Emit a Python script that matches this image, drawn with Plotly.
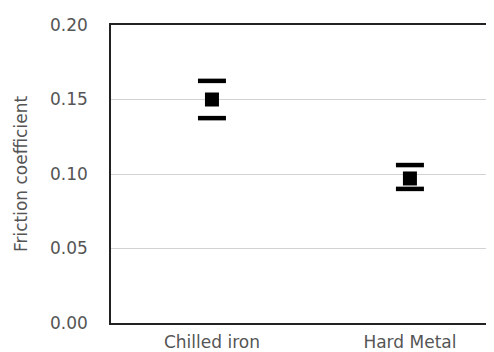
import plotly.graph_objects as go

categories = ["Chilled iron", "Hard Metal"]
friction_mean = [0.150, 0.097]
err_plus = [0.0125, 0.009]
err_minus = [0.0125, 0.007]
y_ticks = [0.00, 0.05, 0.10, 0.15, 0.20]
y_tick_labels = ["0.00", "0.05", "0.10", "0.15", "0.20"]

upper = [m + e for m, e in zip(friction_mean, err_plus)]
lower = [m - e for m, e in zip(friction_mean, err_minus)]

font_family = "DejaVu Sans"
text_color = "#555555"

fig = go.Figure()
fig.add_trace(go.Scatter(
    x=categories, y=upper, mode="markers",
    marker=dict(symbol="line-ew", size=20, line=dict(width=4.5, color="black")),
    showlegend=False, hoverinfo="skip"))
fig.add_trace(go.Scatter(
    x=categories, y=lower, mode="markers",
    marker=dict(symbol="line-ew", size=20, line=dict(width=4.5, color="black")),
    showlegend=False, hoverinfo="skip"))
fig.add_trace(go.Scatter(
    x=categories, y=friction_mean, mode="markers",
    marker=dict(symbol="square", size=14, color="black", line=dict(width=0)),
    showlegend=False))

fig.add_shape(type="line", xref="paper", yref="paper", x0=1, x1=1, y0=0, y1=1,
              line=dict(color="#d8d8d8", width=1))

fig.update_layout(
    width=494, height=352,
    margin=dict(l=103, r=1, t=17, b=37),
    paper_bgcolor="white", plot_bgcolor="white",
    font=dict(family=font_family, size=17, color=text_color),
    xaxis=dict(
        type="category", range=[-0.51, 1.46],
        showline=True, linecolor="#222222", linewidth=1.5, mirror=True,
        showgrid=False, ticks="", ticklabelstandoff=3,
        tickfont=dict(size=17, color=text_color),
    ),
    yaxis=dict(
        range=[0, 0.2], tickvals=y_ticks, ticktext=y_tick_labels,
        showline=True, linecolor="#222222", linewidth=1.5, mirror=False,
        showgrid=True, gridcolor="#d2d2d2", gridwidth=1,
        zeroline=False, ticks="", ticklabelstandoff=18,
        tickfont=dict(size=17, color=text_color),
        title=dict(text="Friction coefficient", standoff=18,
                   font=dict(size=17, color=text_color)),
    ),
)

fig.write_html("out.html")
